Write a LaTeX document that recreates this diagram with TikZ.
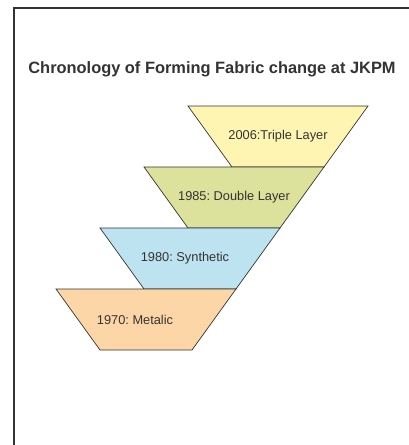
\documentclass[tikz,border=0pt]{standalone}
\usepackage{fontspec}
\setmainfont{Liberation Sans}
\frenchspacing
\definecolor{triplefill}{HTML}{FFF5B3}
\definecolor{doublefill}{HTML}{DCE29B}
\definecolor{synthfill}{HTML}{BEE3F0}
\definecolor{metalfill}{HTML}{FCD6A6}
\definecolor{inkgray}{HTML}{333333}

\begin{document}
\begin{tikzpicture}%
    [x=1pt, y=-1pt,
     layer/.style={draw=inkgray, line width=0.7pt},
     yearlabel/.style={font=\fontsize{12.8}{15}\selectfont, text=inkgray}]
    \useasboundingbox (0,0) rectangle (409,445);
    \draw[inkgray, line width=2pt] (14,445) -- (14,8) -- (409,8);
    \node[text=inkgray, font=\fontsize{16.4}{19}\selectfont\bfseries] (title) at (212,69) {Chronology of Forming Fabric change at JKPM};

    \foreach \i/\c/\dx/\txt in {0/triplefill/0/2006:Triple Layer,
                                1/doublefill/0/1985: Double Layer,
                                2/synthfill/-5/1980: Synthetic,
                                3/metalfill/-11/1970: Metalic}{
        \pgfmathsetmacro\xl{188-44*\i}
        \pgfmathsetmacro\yt{106+61*\i}
        \filldraw[layer, fill=\c] (\xl,\yt) -- ++(180,0) -- ++(-44,61) -- ++(-92,0) -- cycle;
        \node[yearlabel] (year\i) at (\xl+90+\dx, \yt+30.5) {\txt};
    }
\end{tikzpicture}
\end{document}
